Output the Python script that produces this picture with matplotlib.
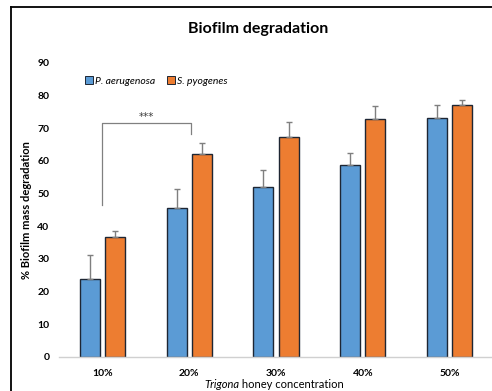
import numpy as np
import matplotlib.pyplot as plt
from matplotlib.lines import Line2D

# concentrations + measured values
concentrations = ["10%", "20%", "30%", "40%", "50%"]
p_aeruginosa = [23.9, 45.5, 52.1, 58.7, 73.1]
p_aeruginosa_err = [7.3, 5.9, 5.2, 3.8, 4.1]
s_pyogenes = [36.6, 62.2, 67.2, 72.8, 77.2]
s_pyogenes_err = [2.0, 3.3, 4.6, 4.1, 1.4]

blue = "#5B9BD5"
orange = "#ED7D31"
edge = "#1e2633"
errc = "#7f7f7f"

plt.rcParams['font.family'] = ['Lato', 'DejaVu Sans']

fig = plt.figure(figsize=(4.92, 3.91), dpi=100)
ax = fig.add_axes([0.12, 0.087, 0.882, 0.752])

x = np.arange(len(concentrations))
w = 0.23
off = 0.145

ax.bar(x - off, p_aeruginosa, w, color=blue, edgecolor=edge, linewidth=1.0,
       yerr=[np.zeros(5), p_aeruginosa_err], ecolor=errc,
       error_kw=dict(elinewidth=1.0, capsize=2.5, capthick=1.0), zorder=2)
ax.bar(x + off, s_pyogenes, w, color=orange, edgecolor=edge, linewidth=1.0,
       yerr=[np.zeros(5), s_pyogenes_err], ecolor=errc,
       error_kw=dict(elinewidth=1.0, capsize=2.5, capthick=1.0), zorder=2)

ax.set_xlim(-0.5, 4.5)
ax.set_ylim(0, 90)
ax.set_yticks(range(0, 91, 10))
ax.set_xticks(x)
ax.set_xticklabels(concentrations, fontweight="bold", fontsize=7.5)
for lab in ax.get_yticklabels():
    lab.set_fontweight("bold")
    lab.set_fontsize(7.5)
ax.tick_params(length=0)
ax.tick_params(axis="x", pad=9)
ax.tick_params(axis="y", pad=7)
for s in ["top", "right", "left"]:
    ax.spines[s].set_visible(False)
ax.spines["bottom"].set_color("#d0d0d0")
ax.spines["bottom"].set_linewidth(1.0)

ax.set_ylabel("% Biofilm mass degradation", fontweight="bold", fontsize=8)
ax.yaxis.set_label_coords(-0.062, 0.5)

# x label: italic genus + plain rest, centred together
fig.canvas.draw()
r = fig.canvas.get_renderer()
t1 = fig.text(0, 0, "Trigona", style="italic", fontsize=8, va="center")
t2 = fig.text(0, 0, " honey concentration", fontsize=8, va="center")
w1 = t1.get_window_extent(r).width
w2 = t2.get_window_extent(r).width
x0 = 274 - (w1 + w2) / 2
yl = 1 - 385 / 391
t1.set_position((x0 / 492, yl))
t2.set_position(((x0 + w1) / 492, yl))

# significance bracket
ax.plot([0, 0, 1.02, 1.02], [46.5, 71.6, 71.6, 68.2], color="#808080", lw=0.9, zorder=1)
ax.text(0.51, 72.0, "***", ha="center", va="bottom", fontsize=7.5, color="#404040",
        family="DejaVu Sans")

# legend
handles = [Line2D([], [], marker="s", ls="", markerfacecolor=blue, markeredgecolor=edge,
                  markersize=6, markeredgewidth=0.7),
           Line2D([], [], marker="s", ls="", markerfacecolor=orange, markeredgecolor=edge,
                  markersize=6, markeredgewidth=0.7)]
leg = ax.legend(handles, ["P. aerugenosa", "S. pyogenes"], loc="upper left",
                bbox_to_anchor=(0.035, 0.985), ncol=2, frameon=False,
                handletextpad=0.1, columnspacing=1.0, handlelength=1.0,
                prop=dict(style="italic", size=7.5))

fig.text(0.524, 0.927, "Biofilm degradation", ha="center", va="center",
         fontweight="bold", fontsize=11.5)

# outer frame (cropped)
fig.add_artist(Line2D([11 / 492, 11 / 492], [0, 1 - 7 / 391], color="black", lw=1.3,
                      transform=fig.transFigure))
fig.add_artist(Line2D([11 / 492, 1], [1 - 7 / 391, 1 - 7 / 391], color="black", lw=1.3,
                      transform=fig.transFigure))

fig.savefig("out.png", dpi=100)
